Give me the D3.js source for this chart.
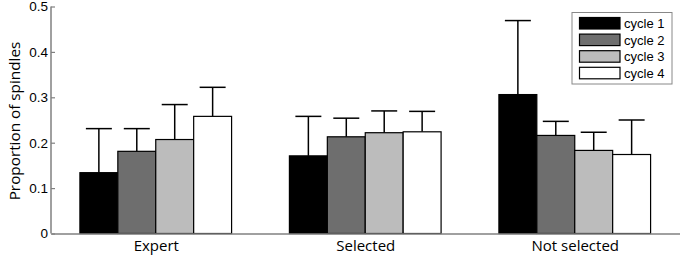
<!DOCTYPE html>
<html><head><meta charset="utf-8">
<script src="https://cdn.jsdelivr.net/npm/d3@7"></script>
<style>html,body{margin:0;padding:0;background:#fff;}svg{display:block;}</style>
</head><body>
<svg id="chart" width="680" height="260"></svg>
<script>
const categories = ["Expert", "Selected", "Not selected"];
const seriesNames = ["cycle 1", "cycle 2", "cycle 3", "cycle 4"];
const cycle1 = [0.134, 0.171, 0.306];
const cycle2 = [0.181, 0.213, 0.216];
const cycle3 = [0.207, 0.222, 0.183];
const cycle4 = [0.258, 0.224, 0.174];
const err1 = [0.097, 0.087, 0.163];
const err2 = [0.050, 0.041, 0.031];
const err3 = [0.077, 0.048, 0.040];
const err4 = [0.064, 0.045, 0.076];
const yTicks = [0, 0.1, 0.2, 0.3, 0.4, 0.5];
const colors = ["#000000", "#6e6e6e", "#bcbcbc", "#ffffff"];

const values = [cycle1, cycle2, cycle3, cycle4];
const errors = [err1, err2, err3, err4];

const svg = d3.select("#chart");
const x = d3.scaleLinear().domain([0.5, 3.5]).range([51, 679.5]);
const y = d3.scaleLinear().domain([0, 0.5]).range([233.5, 6.5]);
const barW = 0.181;
const capW = 0.124;

const data = [];
values.forEach((vals, j) => vals.forEach((v, i) => {
  data.push({s: j, g: i, v: v, e: errors[j][i], c: (i + 1) + (j - 1.5) * barW});
}));

// error bars
const eb = svg.append("g").attr("stroke", "#000").attr("stroke-width", 1.5);
data.forEach(d => {
  eb.append("line").attr("x1", x(d.c)).attr("x2", x(d.c)).attr("y1", y(d.v)).attr("y2", y(d.v + d.e));
  eb.append("line").attr("x1", x(d.c - capW / 2)).attr("x2", x(d.c + capW / 2)).attr("y1", y(d.v + d.e)).attr("y2", y(d.v + d.e));
});

// bars
svg.append("g").selectAll("rect").data(data).join("rect")
  .attr("x", d => x(d.c - barW / 2))
  .attr("width", d => x(d.c + barW / 2) - x(d.c - barW / 2))
  .attr("y", d => y(d.v))
  .attr("height", d => y(0) - y(d.v))
  .attr("fill", d => colors[d.s])
  .attr("stroke", "#000").attr("stroke-width", 1.2);

// axes
const yAxis = d3.axisLeft(y).tickValues(yTicks).tickSize(-4).tickPadding(3).tickFormat(d => d === 0 ? "0" : d3.format(".1f")(d));
const ga = svg.append("g").attr("transform", `translate(${x(0.5)},0)`).call(yAxis);
ga.select(".domain").attr("stroke", "#808080").attr("stroke-width", 1.5).attr("d", `M0,${y(0.5)}V${y(0)}`);
ga.selectAll(".tick line").attr("stroke", "#808080").attr("stroke-width", 1.2);
ga.selectAll(".tick text").attr("font-family", "Liberation Sans, Arial, sans-serif").attr("font-size", 13.5).attr("fill", "#000");

const xAxis = d3.axisBottom(x).tickValues([1, 2, 3]).tickSize(0).tickPadding(7).tickFormat(d => categories[d - 1]);
const gx = svg.append("g").attr("transform", `translate(0,${y(0)})`).call(xAxis);
gx.select(".domain").attr("stroke", "#808080").attr("stroke-width", 1.5);
gx.selectAll(".tick text").attr("font-family", "Open Sans, sans-serif").attr("font-size", 15).attr("fill", "#000");

// y label
svg.append("text").attr("transform", `translate(15,121) rotate(-90)`)
  .attr("text-anchor", "middle").attr("dy", "0.35em").attr("font-family", "Open Sans, sans-serif").attr("font-size", 15.3)
  .text("Proportion of spindles");

// legend
const lg = svg.append("g");
lg.append("rect").attr("x", 572).attr("y", 12.5).attr("width", 100).attr("height", 71.5)
  .attr("fill", "#fff").attr("stroke", "#888").attr("stroke-width", 1);
seriesNames.forEach((n, j) => {
  lg.append("rect").attr("x", 579.5).attr("y", 17.5 + j * 16.6).attr("width", 40.5).attr("height", 11.5)
    .attr("fill", colors[j]).attr("stroke", "#000").attr("stroke-width", 1.2);
  lg.append("text").attr("x", 624).attr("y", 23.5 + j * 16.6).attr("dy", "0.35em")
    .attr("font-family", "Liberation Sans, Arial, sans-serif").attr("font-size", 13).text(n);
});
</script>
</body></html>
